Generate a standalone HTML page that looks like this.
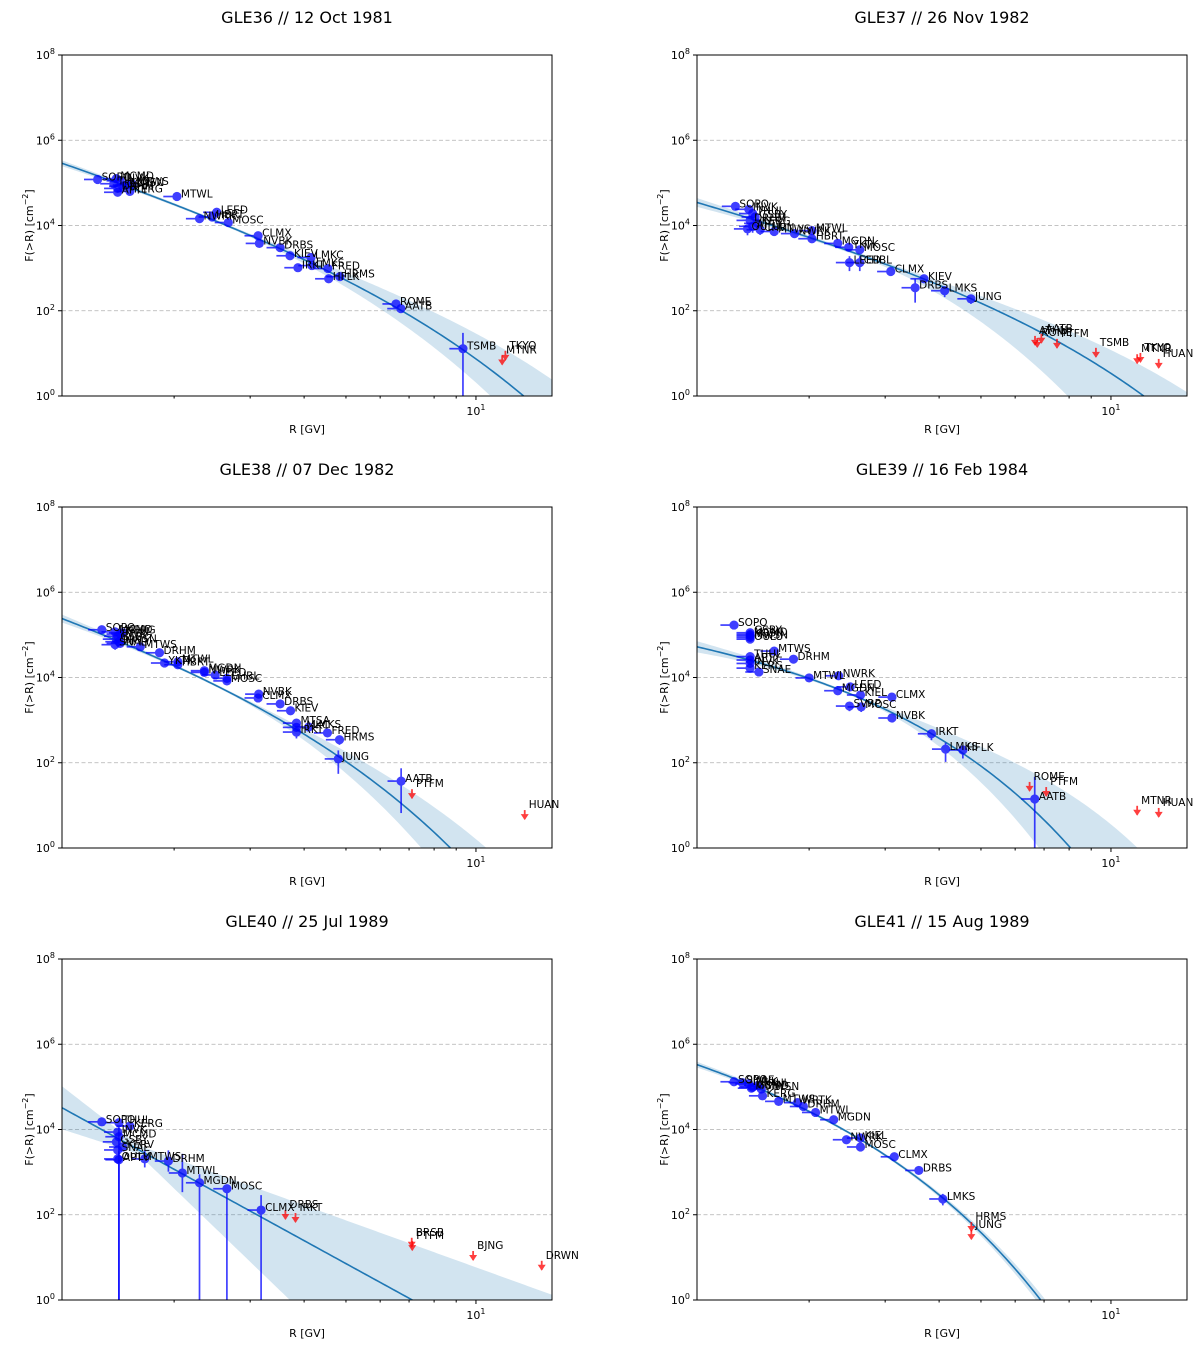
<!DOCTYPE html>
<html><head><meta charset="utf-8"><style>
html,body{margin:0;padding:0;background:#fff;overflow:hidden;width:1200px;height:1347px;}
svg{display:block;}
svg text{font-family:"DejaVu Sans","Liberation Sans",sans-serif;}
</style></head><body>
<svg id="fig" xmlns="http://www.w3.org/2000/svg" width="1200" height="1347" viewBox="0 0 1200 1347"></svg>
<script>
// ---------- DATA ----------
const titles = ["GLE36 // 12 Oct 1981","GLE37 // 26 Nov 1982","GLE38 // 07 Dec 1982","GLE39 // 16 Feb 1984","GLE40 // 25 Jul 1989","GLE41 // 15 Aug 1989"];

const gle36Labels = ["SOPO","MCMD","INVK","THUL","GSBY","DRHM","MWSN","MTWS","KERG","APTY","MTWL","NWRK","LEED","HBRT","MOSC","CLMX","NVBK","DRBS","KIEV","LMKC","IRKT","LMKS","FRED","HRMS","HFLK","ROME","AATB","TSMB"];
const gle36R = [1.33,1.47,1.50,1.45,1.52,1.48,1.55,1.60,1.58,1.48,2.03,2.29,2.51,2.45,2.67,3.13,3.15,3.52,3.71,4.15,3.87,4.17,4.54,4.84,4.56,6.53,6.70,9.33];
const gle36F = [5.08,5.10,5.05,4.98,4.92,4.87,4.95,4.97,4.80,4.78,4.68,4.16,4.31,4.20,4.07,3.76,3.58,3.48,3.29,3.25,3.01,3.06,2.99,2.80,2.75,2.16,2.05,1.11];
const gle36ErrDn = [0.05,0.05,0.05,0.05,0.05,0.1,0.05,0.05,0.1,0.1,0.05,0.05,0.05,0.05,0.05,0.05,0.05,0.05,0.05,0.05,0.08,0.05,0.05,0.05,0.08,0.05,0.1,9];
const gle36ErrUp = [0.05,0.05,0.05,0.05,0.05,0.1,0.05,0.05,0.1,0.1,0.05,0.05,0.05,0.05,0.05,0.05,0.05,0.05,0.05,0.05,0.08,0.05,0.05,0.05,0.08,0.05,0.1,0.37];
const gle36LimLabels = ["TKYO","MTNR"];
const gle36LimR = [11.7,11.5];
const gle36LimF = [1.06,0.95];
const gle36Fit = [5.79,3.09,0.183];
const gle36Band = [0.03,2.5,0.3,1.45,1.56,2];

const gle37Labels = ["SOPO","INVK","THUL","GSBY","DRHM","KERG","APTY","OULU","CHRN","MTWS","NWRK","MTWL","HBRT","MGDN","YKTK","MOSC","LEED","CHBL","CLMX","KIEV","DRBS","LMKS","JUNG"];
const gle37R = [1.35,1.45,1.48,1.50,1.46,1.52,1.48,1.44,1.54,1.66,1.85,2.03,2.03,2.33,2.47,2.62,2.48,2.62,3.09,3.69,3.52,4.12,4.74];
const gle37F = [4.45,4.38,4.28,4.20,4.12,4.05,3.98,3.92,3.90,3.86,3.81,3.88,3.69,3.58,3.49,3.43,3.13,3.13,2.92,2.75,2.54,2.47,2.28];
const gle37ErrDn = [0.05,0.05,0.05,0.05,0.05,0.1,0.15,0.15,0.12,0.08,0.05,0.05,0.1,0.05,0.08,0.08,0.2,0.2,0.08,0.05,0.35,0.15,0.12];
const gle37ErrUp = [0.05,0.05,0.05,0.05,0.05,0.1,0.1,0.1,0.1,0.05,0.05,0.05,0.05,0.05,0.05,0.05,0.15,0.15,0.05,0.05,0.2,0.1,0.08];
const gle37LimLabels = ["AATB","ATHN","ROME","PTFM","TSMB","TKYO","MTNR","HUAN"];
const gle37LimR = [6.9,6.67,6.75,7.5,9.23,11.7,11.5,12.9];
const gle37LimF = [1.46,1.41,1.36,1.34,1.13,1.01,0.98,0.87];
const gle37Fit = [4.84,2.55,0.176];
const gle37Band = [0.04,2.5,0.5,4.4,1.4,2];

const gle38Labels = ["SOPO","MCMD","THUL","INVK","KERG","GSBY","MWSN","SNAE","APTY","MTWS","DRHM","YKTK","HBRT","MTWL","MGDN","LEED","NWRK","MOSC","CHBL","NVBK","CLMX","DRBS","KIEV","MTSA","LMKC","IRKT","LMKS","FRED","HRMS","JUNG","AATB"];
const gle38R = [1.36,1.46,1.50,1.48,1.52,1.47,1.49,1.46,1.50,1.67,1.85,1.90,2.04,2.04,2.35,2.49,2.35,2.65,2.65,3.14,3.13,3.52,3.72,3.84,3.84,3.84,4.10,4.53,4.83,4.80,6.71];
const gle38F = [5.12,5.07,5.02,4.97,5.05,4.90,4.84,4.77,4.80,4.72,4.58,4.34,4.30,4.37,4.16,4.06,4.12,3.92,3.98,3.61,3.52,3.38,3.22,2.93,2.83,2.72,2.84,2.70,2.54,2.09,1.57];
const gle38ErrDn = [0.05,0.05,0.05,0.05,0.05,0.08,0.08,0.12,0.1,0.05,0.05,0.08,0.08,0.05,0.08,0.05,0.05,0.1,0.05,0.05,0.08,0.05,0.08,0.08,0.08,0.15,0.05,0.05,0.12,0.35,0.75];
const gle38ErrUp = [0.05,0.05,0.05,0.05,0.05,0.05,0.05,0.08,0.05,0.05,0.05,0.05,0.05,0.05,0.05,0.05,0.05,0.05,0.05,0.05,0.05,0.05,0.05,0.05,0.05,0.08,0.05,0.05,0.05,0.2,0.3];
const gle38LimLabels = ["PTFM","HUAN"];
const gle38LimR = [7.11,12.97];
const gle38LimF = [1.38,0.89];
const gle38Fit = [5.89,3.05,0.346];
const gle38Band = [0.03,2.5,0.5,2.7,2.2,2];

const gle39Labels = ["SOPO","GSBY","MCMD","KGSN","MWSN","OULU","MTWS","THUL","APTY","INVK","KERG","SNAE","DRHM","MTWL","NWRK","MGDN","LEED","KIEL","CLMX","SVRP","MOSC","NVBK","IRKT","LMKS","HFLK","AATB"];
const gle39R = [1.34,1.46,1.46,1.46,1.46,1.46,1.66,1.46,1.46,1.46,1.46,1.53,1.84,2.00,2.34,2.33,2.49,2.63,3.11,2.48,2.64,3.11,3.84,4.14,4.54,6.66];
const gle39F = [5.23,5.05,5.01,4.98,4.94,4.90,4.62,4.49,4.41,4.33,4.22,4.13,4.43,3.99,4.04,3.69,3.78,3.59,3.54,3.33,3.31,3.05,2.68,2.32,2.30,1.15];
const gle39ErrDn = [0.05,0.05,0.05,0.05,0.05,0.08,0.05,0.05,0.08,0.08,0.1,0.08,0.05,0.05,0.05,0.05,0.05,0.05,0.05,0.12,0.12,0.1,0.15,0.3,0.2,9];
const gle39ErrUp = [0.05,0.05,0.05,0.05,0.05,0.05,0.05,0.05,0.05,0.05,0.05,0.05,0.05,0.05,0.05,0.05,0.05,0.05,0.05,0.08,0.08,0.05,0.08,0.15,0.1,0.52];
const gle39LimLabels = ["ROME","PTFM","MTNR","HUAN"];
const gle39LimR = [6.48,7.08,11.5,12.9];
const gle39LimF = [1.55,1.43,0.99,0.94];
const gle39Fit = [5.38,0.90,0.566];
const gle39Band = [0.03,2.5,0.8,3.9,4.7,2];

const gle40Labels = ["SOPO","THUL","KERG","INVK","MCMD","GSBY","KERV","SNAE","OULU","APTY","MTWS","DRHM","MTWL","MGDN","MOSC","CLMX"];
const gle40R = [1.36,1.49,1.58,1.48,1.49,1.47,1.52,1.48,1.48,1.49,1.71,1.94,2.09,2.29,2.65,3.18];
const gle40F = [4.18,4.16,4.08,3.94,3.83,3.71,3.59,3.52,3.31,3.29,3.31,3.26,2.98,2.75,2.61,2.11];
const gle40ErrDn = [0.05,9,0.05,0.08,0.08,0.08,0.08,0.1,0.1,9,0.2,0.25,0.45,9,9,9];
const gle40ErrUp = [0.05,0.1,0.05,0.05,0.05,0.05,0.05,0.05,0.05,0.2,0.2,0.25,0.45,0.2,0.1,0.35];
const gle40LimLabels = ["DRBS","IRKT","BRSB","PTFM","BJNG","DRWN"];
const gle40LimR = [3.62,3.82,7.10,7.12,9.85,14.2];
const gle40LimF = [2.11,2.04,1.46,1.38,1.15,0.92];
const gle40Fit = [4.74,5.56,0];
const gle40Band = [0.1,1.65,2.3,4.2,1.9,1];

const gle41Labels = ["SOPO","SNAE","INVK","THUL","GSBY","MCMD","MWSN","KERG","MTWS","WRTK","DRHM","MTWL","MGDN","NWRK","KIEL","MOSC","CLMX","DRBS","LMKS"];
const gle41R = [1.34,1.40,1.45,1.52,1.48,1.47,1.55,1.56,1.70,1.88,1.94,2.07,2.28,2.44,2.63,2.63,3.15,3.59,4.08];
const gle41F = [5.12,5.10,5.07,5.03,4.99,4.97,4.95,4.79,4.66,4.63,4.54,4.40,4.23,3.76,3.80,3.59,3.36,3.04,2.37];
const gle41ErrDn = [0.05,0.05,0.05,0.05,0.05,0.05,0.05,0.08,0.05,0.05,0.08,0.05,0.05,0.08,0.05,0.08,0.05,0.05,0.15];
const gle41ErrUp = [0.05,0.05,0.05,0.05,0.05,0.05,0.05,0.05,0.05,0.05,0.05,0.05,0.05,0.05,0.05,0.05,0.05,0.05,0.12];
const gle41LimLabels = ["HRMS","JUNG"];
const gle41LimR = [4.75,4.75];
const gle41LimF = [1.83,1.64];
const gle41Fit = [6.38,1.75,0.715];
const gle41Band = [0.03,2.5,0.3,0.6,0.6,2];

const xMin = 1.1, xMax = 15, yMinExp = 0, yMaxExp = 8;
const yTickExps = [0,2,4,6,8];
const xMinorTicks = [2,3,4,5,6,7,8,9];

// ---------- DRAW ----------
const NS = "http://www.w3.org/2000/svg";
const svg = document.getElementById("fig");
function mk(tag, attrs, parent){const e=document.createElementNS(NS,tag);for(const k in attrs)e.setAttribute(k,attrs[k]);(parent||svg).appendChild(e);return e;}

const panels = [
 {L:gle36Labels,R:gle36R,F:gle36F,ED:gle36ErrDn,EU:gle36ErrUp,LL:gle36LimLabels,LR:gle36LimR,LF:gle36LimF,fit:gle36Fit,band:gle36Band},
 {L:gle37Labels,R:gle37R,F:gle37F,ED:gle37ErrDn,EU:gle37ErrUp,LL:gle37LimLabels,LR:gle37LimR,LF:gle37LimF,fit:gle37Fit,band:gle37Band},
 {L:gle38Labels,R:gle38R,F:gle38F,ED:gle38ErrDn,EU:gle38ErrUp,LL:gle38LimLabels,LR:gle38LimR,LF:gle38LimF,fit:gle38Fit,band:gle38Band},
 {L:gle39Labels,R:gle39R,F:gle39F,ED:gle39ErrDn,EU:gle39ErrUp,LL:gle39LimLabels,LR:gle39LimR,LF:gle39LimF,fit:gle39Fit,band:gle39Band},
 {L:gle40Labels,R:gle40R,F:gle40F,ED:gle40ErrDn,EU:gle40ErrUp,LL:gle40LimLabels,LR:gle40LimR,LF:gle40LimF,fit:gle40Fit,band:gle40Band},
 {L:gle41Labels,R:gle41R,F:gle41F,ED:gle41ErrDn,EU:gle41ErrUp,LL:gle41LimLabels,LR:gle41LimR,LF:gle41LimF,fit:gle41Fit,band:gle41Band}
];
const X0s=[62,697], Y0s=[55,507,959], W=490, H=341;

panels.forEach((p,i)=>{
  const x0=X0s[i%2], y0=Y0s[Math.floor(i/2)];
  const lx0=Math.log10(xMin), lx1=Math.log10(xMax);
  const sx = r => x0 + (Math.log10(r)-lx0)/(lx1-lx0)*W;
  const sy = lf => y0 + H - (lf-yMinExp)/(yMaxExp-yMinExp)*H;
  const g = mk("g",{});
  
  
  const cid="clip"+i;
  const cp=mk("clipPath",{id:cid},g); mk("rect",{x:x0,y:y0,width:W,height:H},cp);
  const t=mk("text",{x:x0+W/2,y:y0-32,"text-anchor":"middle","font-size":"16"},g); t.textContent=titles[i];
  
  
  yTickExps.forEach(e=>{
    if(e>yMinExp && e<yMaxExp){
      const gl=mk("line",{x1:x0,x2:x0+W,y1:sy(e),y2:sy(e),stroke:"#b0b0b0","stroke-width":"0.8","stroke-dasharray":"4,2.5"},g);
      
      
    }
  });
  const fit=p.fit, bd=p.band;
  const model = r => fit[0]-fit[1]*Math.log10(r)-fit[2]*r;
  const width = (r,up) => { const d=Math.log10(r)-Math.log10(bd[1]); const c = d<0?bd[2]:(up?bd[4]:bd[3]); return bd[0]+c*Math.pow(Math.abs(d),bd[5]); };
  const N=200, up=[], lo=[], ln=[];
  for(let k=0;k<=N;k++){const r=Math.pow(10,lx0+(lx1-lx0)*k/N); const m=model(r);
    ln.push(sx(r).toFixed(2)+","+sy(m).toFixed(2));
    up.push(sx(r).toFixed(2)+","+sy(m+width(r,true)).toFixed(2));
    lo.push(sx(r).toFixed(2)+","+sy(m-width(r,false)).toFixed(2));}
  const band=mk("polygon",{points:up.concat(lo.reverse()).join(" "),fill:"#1f77b4","fill-opacity":"0.2","clip-path":"url(#"+cid+")"},g);
  
  
  const fl=mk("polyline",{points:ln.join(" "),fill:"none",stroke:"#1f77b4","stroke-width":"1.6","clip-path":"url(#"+cid+")"},g);
  
  
  const pg=mk("g",{"clip-path":"url(#"+cid+")"},g);
  const tg=mk("g",{},g);
  p.R.forEach((r,j)=>{
    const cx=sx(r), cy=sy(p.F[j]);
    const pt=mk("g",{opacity:"0.75"},pg);
    
    
    mk("line",{x1:sx(r*0.93),x2:cx,y1:cy,y2:cy,stroke:"#0000ff","stroke-width":"1.7"},pt);
    mk("line",{x1:cx,x2:cx,y1:sy(p.F[j]-p.ED[j]),y2:sy(p.F[j]+p.EU[j]),stroke:"#0000ff","stroke-width":"1.7"},pt);
    mk("circle",{cx:cx,cy:cy,r:4.6,fill:"#0000ff"},pt);
    const lb=mk("text",{x:cx+4,y:cy+1,"font-size":"10.5",fill:"#000"},tg); lb.textContent=p.L[j];
    
    
  });
  p.LR.forEach((r,j)=>{
    const cx=sx(r), cy=sy(p.LF[j]);
    const a=mk("g",{opacity:"0.75"},pg);
    
    
    mk("line",{x1:cx,x2:cx,y1:cy,y2:cy+9,stroke:"#ff0000","stroke-width":"1.8"},a);
    mk("polygon",{points:(cx-4)+","+(cy+4)+" "+(cx+4)+","+(cy+4)+" "+cx+","+(cy+10)},a).setAttribute("fill","#ff0000");
    const lb=mk("text",{x:cx+4,y:cy-2,"font-size":"10.5",fill:"#000"},tg); lb.textContent=p.LL[j];
    
    
  });
  const fr=mk("rect",{x:x0,y:y0,width:W,height:H,fill:"none",stroke:"#000","stroke-width":"1"},g);
  
  
  yTickExps.forEach(e=>{
    const y=sy(e);
    mk("line",{x1:x0-4,x2:x0,y1:y,y2:y,stroke:"#000"},g);
    const tl=mk("text",{x:x0-7,y:y+4,"text-anchor":"end","font-size":"11"},g);
    
    
    tl.innerHTML='10<tspan dy="-5" font-size="8">'+e+'</tspan>';
  });
  xMinorTicks.forEach(v=>{ if(v>xMin&&v<xMax) mk("line",{x1:sx(v),x2:sx(v),y1:y0+H,y2:y0+H+2.5,stroke:"#000"},g); });
  mk("line",{x1:sx(10),x2:sx(10),y1:y0+H,y2:y0+H+4,stroke:"#000"},g);
  const xt=mk("text",{x:sx(10),y:y0+H+19,"text-anchor":"middle","font-size":"11"},g);
  
  
  xt.innerHTML='10<tspan dy="-5" font-size="8">1</tspan>';
  const xl=mk("text",{x:x0+W/2,y:y0+H+37,"text-anchor":"middle","font-size":"11"},g); xl.textContent="R [GV]";
  
  
  const yl=mk("text",{x:0,y:0,"text-anchor":"middle","font-size":"11",transform:"translate("+(x0-29)+","+(y0+H/2)+") rotate(-90)"},g);
  
  
  yl.innerHTML='F(&gt;R) [cm<tspan dy="-5" font-size="8">−2</tspan><tspan dy="5">]</tspan>';
});
</script>
</body></html>
